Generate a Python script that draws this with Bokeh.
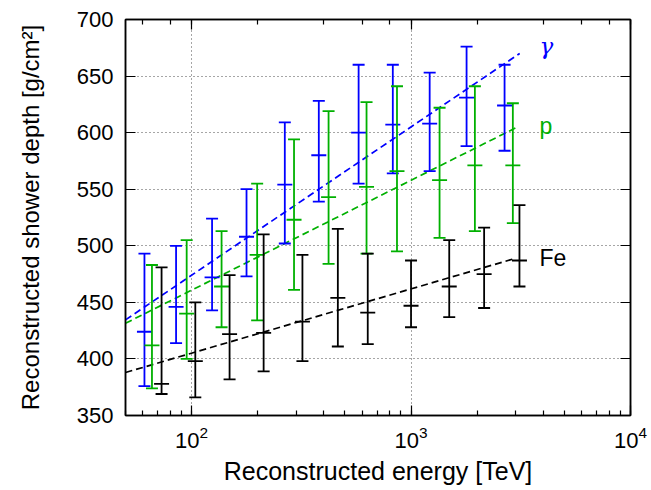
from bokeh.plotting import figure
from bokeh.models import Range1d, LinearAxis, LogAxis, LogTicker, SingleIntervalTicker
from bokeh.core.properties import value
from bokeh.embed import file_html
from bokeh.resources import INLINE

# ---- data ----
energy_gamma = [61, 85, 124, 178, 266, 380, 577, 826, 1216, 1791, 2668]
depth_gamma = [424, 446, 472, 508, 554, 580, 600, 607, 608, 631, 624]
gamma_hi = [493, 500, 524, 550, 609, 628, 660, 660, 653, 676, 660]
gamma_lo = [376, 414, 443, 473, 502, 539, 555, 564, 566, 588, 584]

energy_p = [66, 95, 137, 199, 293, 421, 627, 863, 1349, 1954, 2910]
depth_p = [412, 440, 464, 492, 523, 543, 552, 566, 558, 571, 571]
p_hi = [483, 505, 513, 555, 594, 619, 627, 641, 622, 641, 626]
p_lo = [374, 400, 428, 434, 461, 484, 493, 495, 507, 513, 520]

energy_fe = [73, 104, 149, 213, 320, 464, 635, 1000, 1493, 2153, 3119]
depth_fe = [378, 398, 422, 423, 433, 454, 441, 447, 464, 475, 487]
fe_hi = [481, 450, 474, 510, 492, 515, 493, 487, 505, 516, 536]
fe_lo = [369, 366, 382, 389, 398, 411, 413, 428, 437, 445, 464]

fit_energy_gamma = [50, 3127]
fit_gamma = [434.5, 670.0]
fit_energy_p = [50, 3055]
fit_p = [431.5, 605.0]
fit_energy_fe = [50, 3000]
fit_fe = [388.0, 489.0]

series_labels = ["γ", "p", "Fe"]

FONT = "Liberation Sans"
BLUE = "#0000ff"
GREEN = "#00b000"
BLACK = "#000000"

p = figure(width=651, height=490, x_axis_type="log",
           x_range=Range1d(50, 10000), y_range=Range1d(350, 700),
           output_backend="svg", toolbar_location=None,
           min_border_left=125, min_border_right=21,
           min_border_top=19, min_border_bottom=75)
p.background_fill_color = "white"
p.border_fill_color = "white"
p.outline_line_color = "black"
p.outline_line_width = 1.5

# axes styling
def style_axis(ax, minor=True, labels=True):
    ax.major_tick_in = 10
    ax.major_tick_out = 0
    ax.minor_tick_in = 5 if minor else 0
    ax.minor_tick_out = 0
    ax.major_tick_line_color = "black"
    ax.major_tick_line_width = 1.2
    ax.minor_tick_line_color = "black" if minor else None
    ax.minor_tick_line_width = 1.2
    ax.axis_line_color = "black"
    ax.axis_line_width = 1.5
    ax.major_label_text_font = FONT
    ax.major_label_text_color = "black"
    if labels:
        ax.major_label_text_font_size = "22px"
    else:
        ax.major_label_text_font_size = "1px"
        ax.major_label_text_alpha = 0
        ax.major_label_standoff = 0

xa = p.xaxis[0]
ya = p.yaxis[0]
ya.ticker = SingleIntervalTicker(interval=50, num_minor_ticks=0)
style_axis(xa, minor=True)
style_axis(ya, minor=False)
xa.major_label_standoff = 10
ya.major_label_standoff = 12
xa.axis_label = "Reconstructed energy [TeV]"
ya.axis_label = "Reconstructed shower depth [g/cm²]"
for ax in (xa, ya):
    ax.axis_label_text_font = FONT
    ax.axis_label_text_font_style = "normal"
    ax.axis_label_text_color = "black"
xa.axis_label_text_font_size = "25px"
ya.axis_label_text_font_size = "24px"
xa.axis_label_standoff = 6
ya.axis_label_standoff = 30

top = LogAxis(ticker=LogTicker())
style_axis(top, minor=True, labels=False)
p.add_layout(top, "above")
right = LinearAxis(ticker=SingleIntervalTicker(interval=50, num_minor_ticks=0))
style_axis(right, minor=False, labels=False)
p.add_layout(right, "right")

p.xgrid.grid_line_color = "black"
p.xgrid.grid_line_alpha = 0.7
p.xgrid.grid_line_dash = "1 3"
p.xgrid.ticker = LogTicker()
p.ygrid.grid_line_color = "black"
p.ygrid.grid_line_alpha = 0.7
p.ygrid.grid_line_dash = "1 3"
p.ygrid.ticker = SingleIntervalTicker(interval=50)

# fitted lines
for fx, fy, col in ((fit_energy_gamma, fit_gamma, BLUE),
                    (fit_energy_p, fit_p, GREEN),
                    (fit_energy_fe, fit_fe, BLACK)):
    p.line(fx, fy, line_color=col, line_width=1.7, line_dash="7 4")

# error bars
for e, d, hi, lo, col in ((energy_gamma, depth_gamma, gamma_hi, gamma_lo, BLUE),
                          (energy_p, depth_p, p_hi, p_lo, GREEN),
                          (energy_fe, depth_fe, fe_hi, fe_lo, BLACK)):
    p.segment(x0=e, y0=lo, x1=e, y1=hi, line_color=col, line_width=1.8)
    p.scatter(e, hi, marker="dash", size=12, line_color=col, line_width=1.8)
    p.scatter(e, lo, marker="dash", size=12, line_color=col, line_width=1.8)
    p.scatter(e, d, marker="dash", size=15, line_color=col, line_width=1.8)

# series labels
p.text(x=[3850], y=[677], text=[series_labels[0]], text_color=BLUE,
       text_font=value("DejaVu Serif"), text_font_size="23px", text_font_style="italic",
       text_align="left", text_baseline="middle")
p.text(x=[3850], y=[606], text=[series_labels[1]], text_color=GREEN,
       text_font=value(FONT), text_font_size="23px",
       text_align="left", text_baseline="middle")
p.text(x=[3850], y=[489], text=[series_labels[2]], text_color=BLACK,
       text_font=value(FONT), text_font_size="23px",
       text_align="left", text_baseline="middle")

open("out.html", "w").write(file_html(p, INLINE))
